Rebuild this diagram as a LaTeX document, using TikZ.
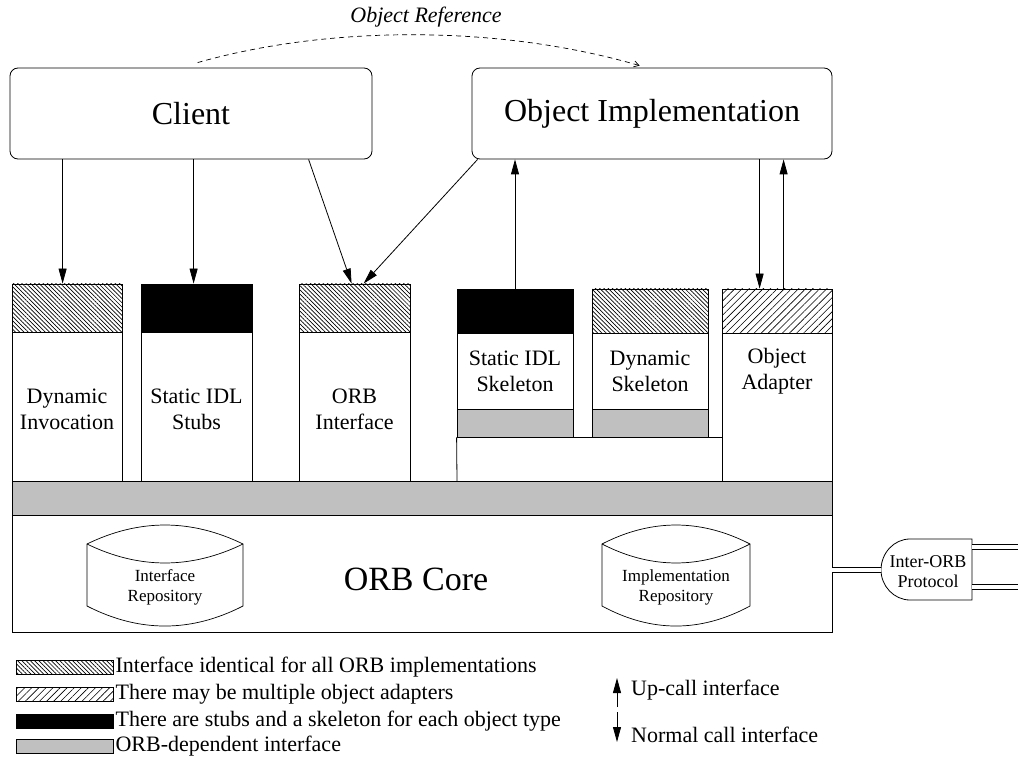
\documentclass[tikz,border=0pt]{standalone}
\usepackage{fontspec}
\setmainfont{Liberation Serif}
\usetikzlibrary{patterns.meta,arrows.meta,calc}
\definecolor{orbgray}{RGB}{192,192,192}
\begin{document}
\begin{tikzpicture}[x=1pt,y=-1pt,
  box/.style={draw,line width=0.8pt,inner sep=0pt,fill=white},
  lbl/.style={font=\fontsize{22}{26}\selectfont,align=center},
  big/.style={font=\fontsize{32}{38}\selectfont},
  small/.style={font=\fontsize{17}{20}\selectfont,align=center},
  hatchA/.style={draw,line width=0.8pt,pattern={Lines[angle=-45,distance=3pt,line width=0.7pt]}},
  hatchB/.style={draw,line width=0.8pt,pattern={Lines[angle=45,distance=5pt,line width=0.6pt]}},
  arr/.style={line width=0.8pt,-{Triangle[length=15pt,width=8pt]}},
  dbl/.style={double,double distance=3.5pt,line width=0.8pt},
  legtxt/.style={font=\fontsize{22}{26}\selectfont,anchor=west,inner sep=2pt}
]
\useasboundingbox (0,0) rectangle (1018,762);

% top boxes
\node[box,rounded corners=8pt,minimum width=362pt,minimum height=91pt,big] (client) at (191,113.5) {Client};
\node[box,rounded corners=8pt,minimum width=360pt,minimum height=91pt,big] (impl) at (652,113.5) {Object Implementation};

% object reference
\draw[line width=0.7pt,dash pattern=on 5pt off 4pt,-{Straight Barb[length=5pt,width=6pt]}]
  ($(client.north west)+(188,-5)$) .. controls (330,25) and (500,25) .. ($(impl.north west)+(168,-2)$);
\node[font=\itshape\fontsize{22}{26}\selectfont] (objref) at (426,17) {Object Reference};

% grey bar and core
\node[box,fill=orbgray,minimum width=820pt,minimum height=34pt] (bar) at (422,498) {};
\node[box,minimum width=820pt,minimum height=117pt] (core) at (422,573.5) {};
\node[font=\fontsize{34}{40}\selectfont] (coretxt) at (416,579) {ORB Core};

% left columns
\node[box,minimum width=110pt,minimum height=197pt] (di) at (67,382.5) {};
\draw[hatchA] (12,284) rectangle (122,332);
\node[lbl] (ditxt) at (67,409) {Dynamic\\Invocation};

\node[box,minimum width=111pt,minimum height=197pt] (stubs) at (196.5,382.5) {};
\draw[fill=black,line width=0.8pt] (141,284) rectangle (252,332);
\node[lbl] (stubstxt) at (196.5,409) {Static IDL\\Stubs};

\node[box,minimum width=111pt,minimum height=197pt] (orbi) at (354.5,382.5) {};
\draw[hatchA] (299,284) rectangle (410,332);
\node[lbl] (orbitxt) at (354.5,409) {ORB\\Interface};

% right block
\node[box,minimum width=116pt,minimum height=148pt] (ssk) at (515,363) {};
\draw[fill=black,line width=0.8pt] (457,289) rectangle (573,333);
\draw[fill=orbgray,line width=0.8pt] (457,409) rectangle (573,437);
\node[lbl] (ssktxt) at (515,371) {Static IDL\\Skeleton};

\node[box,minimum width=116pt,minimum height=148pt] (dsk) at (650,363) {};
\draw[hatchA] (592,289) rectangle (708,333);
\draw[fill=orbgray,line width=0.8pt] (592,409) rectangle (708,437);
\node[lbl] (dsktxt) at (650,371) {Dynamic\\Skeleton};

\node[box,minimum width=110pt,minimum height=192pt] (oa) at (777,385) {};
\draw[hatchB] (722,289) rectangle (832,333);
\node[lbl] (oatxt) at (777,371) {Object\\Adapter};

\coordinate (blk) at (457,481);
\draw[line width=0.8pt] (ssk.south west) -- (blk);
\draw[line width=0.8pt] (ssk.south east) -- (dsk.south west);
\draw[line width=0.8pt] (dsk.south east) -- (oa.west |- dsk.south east);

% arrows
\draw[arr] ($(client.south west)+(53,0)$) -- ($(di.north west)+(51,0)$);
\draw[arr] ($(client.south west)+(184,0)$) -- ($(stubs.north west)+(53,0)$);
\draw[arr] ($(client.south west)+(299,0)$) -- ($(orbi.north west)+(53,0)$);
\draw[arr] ($(impl.south west)+(6,0)$) -- ($(orbi.north west)+(65,0)$);
\draw[arr] (ssk.north) -- (impl.south -| ssk.north);
\draw[arr] ($(impl.south west)+(288,0)$) -- ($(oa.north west)+(38,0)$);
\draw[arr] ($(oa.north west)+(62,0)$) -- ($(impl.south west)+(312,0)$);

% repositories
\draw[line width=0.7pt,fill=white] (87,544) .. controls (139,518.7) and (191,518.7) .. (243,544) -- (243,606)
  .. controls (191,632.7) and (139,632.7) .. (87,606) -- cycle;
\draw[line width=0.7pt] (87,544) .. controls (139,569.3) and (191,569.3) .. (243,544);
\node[small] (ir) at (165,587) {Interface\\Repository};

\draw[line width=0.7pt,fill=white] (602,544) .. controls (651.3,518.7) and (700.7,518.7) .. (750,544) -- (750,606)
  .. controls (700.7,632.7) and (651.3,632.7) .. (602,606) -- cycle;
\draw[line width=0.7pt] (602,544) .. controls (651.3,569.3) and (700.7,569.3) .. (750,544);
\node[small] (imr) at (676,587) {Implementation\\Repository};

% inter-ORB protocol
\draw[line width=0.8pt,fill=white] (910,539) -- (972,539) -- (972,600) -- (910,600)
  .. controls (894,600) and (881,586) .. (881,570) .. controls (881,553) and (894,539) .. (910,539) -- cycle;
\node[font=\fontsize{18}{20}\selectfont,align=center] (iop) at (928,572) {Inter-ORB\\Protocol};
\coordinate (iopl) at (881,570);
\draw[dbl] (core.east |- iopl) -- (iopl);
\coordinate (r1a) at (972,547); \coordinate (r1b) at (1018,547);
\coordinate (r2a) at (972,587); \coordinate (r2b) at (1018,587);
\draw[dbl] (r1a) -- (r1b);
\draw[dbl] (r2a) -- (r2b);

% legend
\node[box,hatchA,minimum width=97pt,minimum height=14pt] (k1) at (64.5,667) {};
\node[legtxt] (t1) at (k1.east) {Interface identical for all ORB implementations};
\node[box,hatchB,minimum width=97pt,minimum height=14pt] (k2) at (64.5,694) {};
\node[legtxt] (t2) at (k2.east) {There may be multiple object adapters};
\node[box,fill=black,minimum width=97pt,minimum height=14pt] (k3) at (64.5,721) {};
\node[legtxt] (t3) at (k3.east) {There are stubs and a skeleton for each object type};
\node[box,fill=orbgray,minimum width=97pt,minimum height=14pt] (k4) at (64.5,746.5) {};
\node[legtxt] (t4) at (k4.east) {ORB-dependent interface};

\coordinate (u1) at (617,707); \coordinate (u2) at (617,678);
\coordinate (d1) at (617,712); \coordinate (d2) at (617,742);
\draw[arr] (u1) -- (u2);
\draw[arr] (d1) -- (d2);
\node[legtxt] (tu) at (629,690) {Up-call interface};
\node[legtxt] (tn) at (629,735) {Normal call interface};
\end{tikzpicture}
\end{document}
